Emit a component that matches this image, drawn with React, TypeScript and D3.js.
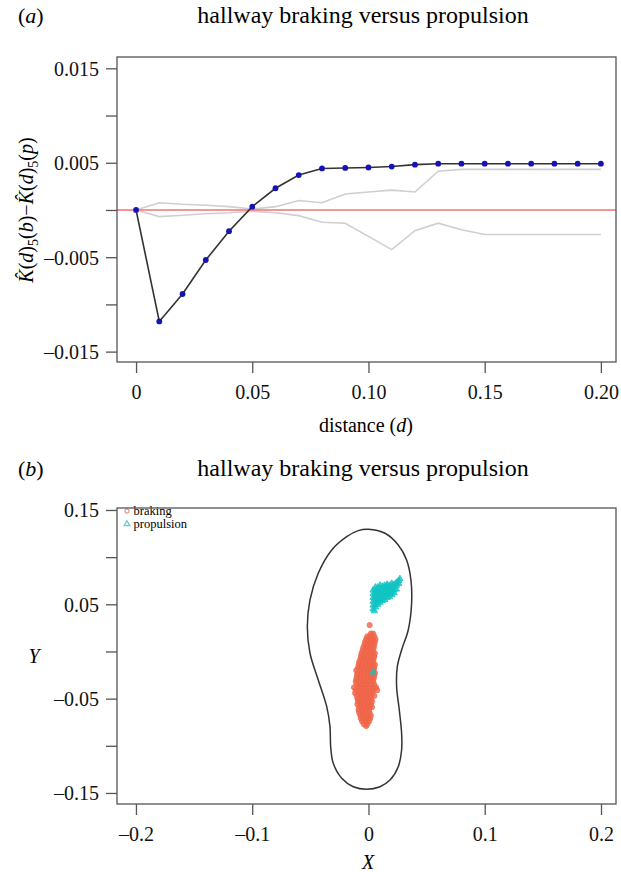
import React, { useEffect, useRef } from 'react';
import * as d3 from 'd3';

// panel (a): difference of K functions, braking minus propulsion
const distances = [0, 0.01, 0.02, 0.03, 0.04, 0.05, 0.06, 0.07, 0.08, 0.09, 0.10,
  0.11, 0.12, 0.13, 0.14, 0.15, 0.16, 0.17, 0.18, 0.19, 0.20];
const kDiff = [0, -0.0118, -0.0089, -0.0053, -0.00225, 0.00035, 0.0023, 0.0037, 0.0044, 0.00445, 0.0045,
  0.0046, 0.0048, 0.0049, 0.0049, 0.0049, 0.0049, 0.0049, 0.0049, 0.0049, 0.0049];
const envUpper = [0, 0.00077, 0.0006, 0.0005, 0.00035, 0.0001, 0.00035, 0.001, 0.00077, 0.0017, 0.0019,
  0.0021, 0.0019, 0.0041, 0.0043, 0.0043, 0.0043, 0.0043, 0.0043, 0.0043, 0.0043];
const envLower = [0, -0.0007, -0.00056, -0.0004, -0.0003, -0.00014, -0.0003, -0.0006, -0.0013, -0.0014, -0.0028,
  -0.0042, -0.0022, -0.0014, -0.0021, -0.0026, -0.0026, -0.0026, -0.0026, -0.0026, -0.0026];

const aXTicks = [0, 0.05, 0.10, 0.15, 0.20];
const aXLabels = ['0', '0.05', '0.10', '0.15', '0.20'];
const aYTicks = [-0.015, -0.01, -0.005, 0, 0.005, 0.01, 0.015];
const aYLabels = ['\u20130.015', '', '\u20130.005', '', '0.005', '', '0.015'];

// panel (b): hallway outline + footfall locations
const outline: [number, number][] = [
  [-0.0002, 0.1296], [0.0142, 0.1253], [0.0256, 0.1129], [0.0328, 0.0970], [0.0365, 0.0758],
  [0.0371, 0.0511], [0.0342, 0.0228], [0.0285, 0.0016], [0.0248, -0.0161], [0.0242, -0.0373],
  [0.0265, -0.0620], [0.0285, -0.0867], [0.0285, -0.1045], [0.0256, -0.1222], [0.0185, -0.1363],
  [0.0099, -0.1434], [-0.0015, -0.1461], [-0.0131, -0.1434], [-0.0230, -0.1345], [-0.0303, -0.1186],
  [-0.0325, -0.1010], [-0.0331, -0.0797], [-0.0359, -0.0585], [-0.0432, -0.0302], [-0.0503, -0.0019],
  [-0.0526, 0.0263], [-0.0503, 0.0546], [-0.0432, 0.0829], [-0.0316, 0.1076], [-0.0187, 0.1217],
  [-0.0088, 0.1281],
];

const braking: [number, number][] = [
  [0.001, 0.028],
  [0.002, 0.019], [0.004, 0.019],
  [-0.001, 0.016], [0.0015, 0.016], [0.005, 0.016],
  [-0.002, 0.013], [0.001, 0.013], [0.0035, 0.013], [0.006, 0.013],
  [-0.003, 0.010], [0.000, 0.010], [0.003, 0.010], [0.0055, 0.010],
  [-0.0035, 0.007], [-0.0005, 0.007], [0.002, 0.007], [0.005, 0.007],
  [-0.0045, 0.004], [-0.0015, 0.004], [0.0015, 0.004], [0.0045, 0.004],
  [-0.005, 0.001], [-0.002, 0.001], [0.001, 0.001], [0.004, 0.001],
  [-0.006, -0.002], [-0.003, -0.002], [0.000, -0.002], [0.003, -0.002], [0.0055, -0.002],
  [-0.0065, -0.005], [-0.0035, -0.005], [-0.0005, -0.005], [0.0025, -0.005], [0.005, -0.005],
  [-0.007, -0.008], [-0.004, -0.008], [-0.001, -0.008], [0.002, -0.008], [0.0045, -0.008],
  [-0.008, -0.011], [-0.005, -0.011], [-0.002, -0.011], [0.001, -0.011], [0.004, -0.011],
  [-0.0085, -0.014], [-0.0055, -0.014], [-0.0025, -0.014], [0.0005, -0.014], [0.0035, -0.014], [0.0055, -0.014],
  [-0.009, -0.017], [-0.006, -0.017], [-0.003, -0.017], [0.000, -0.017], [0.003, -0.017], [0.005, -0.017],
  [-0.0105, -0.020], [-0.007, -0.020], [-0.004, -0.020], [-0.001, -0.020], [0.002, -0.020], [0.0045, -0.020],
  [-0.0095, -0.023], [-0.0065, -0.023], [-0.0035, -0.023], [-0.0005, -0.023], [0.0025, -0.023], [0.0055, -0.023],
  [-0.010, -0.026], [-0.007, -0.026], [-0.004, -0.026], [-0.001, -0.026], [0.002, -0.026], [0.005, -0.026],
  [-0.0105, -0.029], [-0.0075, -0.029], [-0.0045, -0.029], [-0.0015, -0.029], [0.0015, -0.029], [0.0045, -0.029],
  [-0.011, -0.032], [-0.008, -0.032], [-0.005, -0.032], [-0.002, -0.032], [0.001, -0.032], [0.004, -0.032],
  [-0.010, -0.035], [-0.007, -0.035], [-0.004, -0.035], [-0.001, -0.035], [0.002, -0.035], [0.005, -0.035],
  [-0.0125, -0.038], [-0.0085, -0.038], [-0.0055, -0.038], [-0.0025, -0.038], [0.0005, -0.038], [0.0035, -0.038], [0.0065, -0.038],
  [-0.011, -0.041], [-0.008, -0.041], [-0.005, -0.041], [-0.002, -0.041], [0.001, -0.041], [0.004, -0.041], [0.0075, -0.041],
  [-0.0115, -0.044], [-0.0085, -0.044], [-0.0055, -0.044], [-0.0025, -0.044], [0.0005, -0.044], [0.0035, -0.044],
  [-0.010, -0.047], [-0.007, -0.047], [-0.004, -0.047], [-0.001, -0.047], [0.002, -0.047], [0.005, -0.047],
  [-0.0095, -0.050], [-0.0065, -0.050], [-0.0035, -0.050], [-0.0005, -0.050], [0.0025, -0.050],
  [-0.009, -0.053], [-0.006, -0.053], [-0.003, -0.053], [0.000, -0.053], [0.003, -0.053],
  [-0.0095, -0.056], [-0.0065, -0.056], [-0.0035, -0.056], [-0.0005, -0.056], [0.002, -0.056],
  [-0.008, -0.059], [-0.005, -0.059], [-0.002, -0.059], [0.001, -0.059], [0.003, -0.059],
  [-0.0085, -0.062], [-0.0055, -0.062], [-0.0025, -0.062], [0.0005, -0.062],
  [-0.008, -0.065], [-0.005, -0.065], [-0.002, -0.065], [0.001, -0.065],
  [-0.007, -0.068], [-0.004, -0.068], [-0.001, -0.068], [0.002, -0.068],
  [-0.0065, -0.071], [-0.0035, -0.071], [-0.0005, -0.071], [0.0015, -0.071],
  [-0.0055, -0.074], [-0.0025, -0.074], [0.0005, -0.074],
  [-0.004, -0.077], [-0.001, -0.077],
  [-0.002, -0.079],
];

const propulsion: [number, number][] = [
  [0.004, 0.045], [0.004, 0.049], [0.004, 0.053], [0.004, 0.057], [0.004, 0.061], [0.004, 0.065],
  [0.006, 0.047], [0.006, 0.050], [0.006, 0.053], [0.006, 0.056], [0.006, 0.059], [0.006, 0.062], [0.006, 0.065], [0.006, 0.068],
  [0.008, 0.050], [0.008, 0.053], [0.008, 0.056], [0.008, 0.059], [0.008, 0.062], [0.008, 0.065], [0.008, 0.068],
  [0.010, 0.052], [0.010, 0.055], [0.010, 0.058], [0.010, 0.061], [0.010, 0.064], [0.010, 0.067], [0.010, 0.070],
  [0.012, 0.054], [0.012, 0.057], [0.012, 0.060], [0.012, 0.063], [0.012, 0.066], [0.012, 0.069],
  [0.014, 0.055], [0.014, 0.058], [0.014, 0.061], [0.014, 0.064], [0.014, 0.067], [0.014, 0.070],
  [0.016, 0.057], [0.016, 0.060], [0.016, 0.063], [0.016, 0.066], [0.016, 0.069], [0.016, 0.071],
  [0.018, 0.058], [0.018, 0.061], [0.018, 0.064], [0.018, 0.067], [0.018, 0.070],
  [0.020, 0.060], [0.020, 0.063], [0.020, 0.066], [0.020, 0.069], [0.020, 0.072],
  [0.022, 0.062], [0.022, 0.065], [0.022, 0.068], [0.022, 0.071],
  [0.024, 0.066], [0.024, 0.070], [0.024, 0.073],
  [0.026, 0.072], [0.026, 0.075],
  [0.027, 0.077],
  [0.005, 0.043],
  [0.004, -0.022],
];

const bXTicks = [-0.2, -0.1, 0, 0.1, 0.2];
const bXLabels = ['\u20130.2', '\u20130.1', '0', '0.1', '0.2'];
const bYTicks = [-0.15, -0.1, -0.05, 0, 0.05, 0.1, 0.15];
const bYLabels = ['\u20130.15', '', '\u20130.05', '', '0.05', '', '0.15'];

const FONT = '"Liberation Serif", "Times New Roman", serif';
const AXIS_COL = '#555';
const BRAKE_COL = '#F06548';
const PROP_COL = '#12C4C4';

function axes(svg, x, y, xTicks, xLabels, yTicks, yLabels, xLabelGap) {
  const [x0, x1] = x.range();
  const [y0, y1] = y.range(); // y0 bottom, y1 top

  svg.append('g')
    .attr('transform', `translate(0,${y0})`)
    .call(d3.axisBottom(x).tickValues(xTicks).tickSize(11).tickPadding(xLabelGap)
      .tickFormat((d, i) => xLabels[i]))
    .call(g => g.select('.domain').remove())
    .call(g => g.selectAll('line').attr('stroke', AXIS_COL).attr('stroke-width', 1.3))
    .call(g => g.selectAll('text').attr('fill', '#111').style('font-family', FONT).style('font-size', '20px'));

  svg.append('g')
    .attr('transform', `translate(${x0},0)`)
    .call(d3.axisLeft(y).tickValues(yTicks).tickSize(11).tickPadding(7)
      .tickFormat((d, i) => yLabels[i]))
    .call(g => g.select('.domain').remove())
    .call(g => g.selectAll('line').attr('stroke', AXIS_COL).attr('stroke-width', 1.3))
    .call(g => g.selectAll('text').attr('fill', '#111').attr('dy', '0.35em')
      .style('font-family', FONT).style('font-size', '20px'));

  svg.append('rect')
    .attr('x', x0).attr('y', y1)
    .attr('width', x1 - x0).attr('height', y0 - y1)
    .attr('fill', 'none')
    .attr('stroke', AXIS_COL)
    .attr('stroke-width', 1.3);
}

function title(svg, tag, ty) {
  svg.append('text')
    .attr('x', 18).attr('y', ty)
    .style('font-family', FONT).style('font-size', '22px')
    .call(t => {
      t.append('tspan').text('(');
      t.append('tspan').style('font-style', 'italic').text(tag);
      t.append('tspan').text(')');
    });
  svg.append('text')
    .attr('x', 363).attr('y', ty)
    .attr('text-anchor', 'middle')
    .style('font-family', FONT).style('font-size', '24px')
    .text('hallway braking versus propulsion');
}

function plotA(svg) {
  const x = d3.scaleLinear().domain([-0.0082, 0.2065]).range([117, 616]);
  const y = d3.scaleLinear().domain([-0.0161, 0.0162]).range([362, 57]);

  title(svg, 'a', 23);

  const line = d3.line<number>()
    .x((d, i) => x(distances[i]))
    .y(d => y(d));

  [envUpper, envLower].forEach(env => {
    svg.append('path')
      .datum(env)
      .attr('d', line)
      .attr('fill', 'none')
      .attr('stroke', '#cfcfcf')
      .attr('stroke-width', 1.6);
  });

  svg.append('line')
    .attr('x1', x.range()[0]).attr('x2', x.range()[1])
    .attr('y1', y(0)).attr('y2', y(0))
    .attr('stroke', '#F47272')
    .attr('stroke-width', 1.6);

  svg.append('path')
    .datum(kDiff)
    .attr('d', line)
    .attr('fill', 'none')
    .attr('stroke', '#333')
    .attr('stroke-width', 1.6);

  svg.selectAll('.kpt')
    .data(kDiff)
    .enter()
    .append('circle')
    .classed('kpt', true)
    .attr('cx', (d, i) => x(distances[i]))
    .attr('cy', d => y(d))
    .attr('r', 2.9)
    .attr('fill', '#1414B4');

  axes(svg, x, y, aXTicks, aXLabels, aYTicks, aYLabels, 12);

  svg.append('text')
    .attr('x', 366).attr('y', 432)
    .attr('text-anchor', 'middle')
    .style('font-family', FONT).style('font-size', '20px')
    .call(t => {
      t.append('tspan').text('distance (');
      t.append('tspan').style('font-style', 'italic').text('d');
      t.append('tspan').text(')');
    });

  // y label: K^(d)5(b) - K^(d)5(p)
  const parts: [string, string][] = [
    ['K\u0302', 'i'], ['(', 'n'], ['d', 'i'], [')', 'n'], ['5', 's'], ['(', 'n'], ['b', 'i'], [')\u2212', 'n'],
    ['K\u0302', 'i'], ['(', 'n'], ['d', 'i'], [')', 'n'], ['5', 's'], ['(', 'n'], ['p', 'i'], [')', 'n'],
  ];
  const yl = svg.append('text')
    .attr('transform', 'translate(33,210) rotate(-90)')
    .attr('text-anchor', 'middle')
    .style('font-family', FONT).style('font-size', '20px');
  let sub = false;
  parts.forEach(([txt, kind]) => {
    const ts = yl.append('tspan').text(txt);
    if (kind === 'i') ts.style('font-style', 'italic');
    if (kind === 's') {
      ts.attr('dy', 5).style('font-size', '14px');
      sub = true;
    } else if (sub) {
      ts.attr('dy', -5);
      sub = false;
    }
  });
}

function plotB(svg) {
  const x = d3.scaleLinear().domain([-0.2163, 0.2129]).range([117, 616]);
  const y = d3.scaleLinear().domain([-0.1617, 0.1521]).range([804, 508]);

  title(svg, 'b', 476);

  svg.append('path')
    .datum(outline)
    .attr('d', d3.line().curve(d3.curveCatmullRomClosed.alpha(0.5))
      .x(d => x(d[0])).y(d => y(d[1])))
    .attr('fill', 'none')
    .attr('stroke', '#333')
    .attr('stroke-width', 1.5);

  svg.selectAll('.brk')
    .data(braking)
    .enter()
    .append('circle')
    .classed('brk', true)
    .attr('cx', d => x(d[0]))
    .attr('cy', d => y(d[1]))
    .attr('r', 2.6)
    .attr('fill', BRAKE_COL)
    .attr('fill-opacity', 0.8)
    .attr('stroke', BRAKE_COL)
    .attr('stroke-opacity', 0.9)
    .attr('stroke-width', 0.8);

  const tri = d3.symbol().type(d3.symbolTriangle).size(18);
  svg.selectAll('.prp')
    .data(propulsion)
    .enter()
    .append('path')
    .classed('prp', true)
    .attr('d', tri)
    .attr('transform', d => `translate(${x(d[0])},${y(d[1])})`)
    .attr('fill', PROP_COL)
    .attr('fill-opacity', 0.75)
    .attr('stroke', PROP_COL)
    .attr('stroke-width', 0.8);

  // legend
  svg.append('circle')
    .attr('cx', 127).attr('cy', 511).attr('r', 2)
    .attr('fill', 'none').attr('stroke', '#E9A08F').attr('stroke-width', 1.3);
  svg.append('path')
    .attr('d', d3.symbol().type(d3.symbolTriangle).size(14))
    .attr('transform', 'translate(127,524)')
    .attr('fill', 'none').attr('stroke', '#5CCFCF').attr('stroke-width', 1.3);
  svg.append('text')
    .attr('x', 133.5).attr('y', 515)
    .style('font-family', FONT).style('font-size', '12.5px')
    .text('braking');
  svg.append('text')
    .attr('x', 133.5).attr('y', 528)
    .style('font-family', FONT).style('font-size', '12.5px')
    .text('propulsion');

  axes(svg, x, y, bXTicks, bXLabels, bYTicks, bYLabels, 12);

  svg.append('text')
    .attr('x', 368).attr('y', 869)
    .attr('text-anchor', 'middle')
    .style('font-family', FONT).style('font-size', '20px').style('font-style', 'italic')
    .text('X');
  svg.append('text')
    .attr('x', 34).attr('y', 663)
    .attr('text-anchor', 'middle')
    .style('font-family', FONT).style('font-size', '20px').style('font-style', 'italic')
    .text('Y');
}

export default function App() {
  const ref = useRef<SVGSVGElement>(null);

  useEffect(() => {
    document.body.style.margin = '0';
    const svg = d3.select(ref.current);
    svg.selectAll('*').remove();
    plotA(svg);
    plotB(svg);
  }, []);

  return (
    <svg ref={ref} width={621} height={872} style={{ display: 'block', background: '#fff' }} />
  );
}
